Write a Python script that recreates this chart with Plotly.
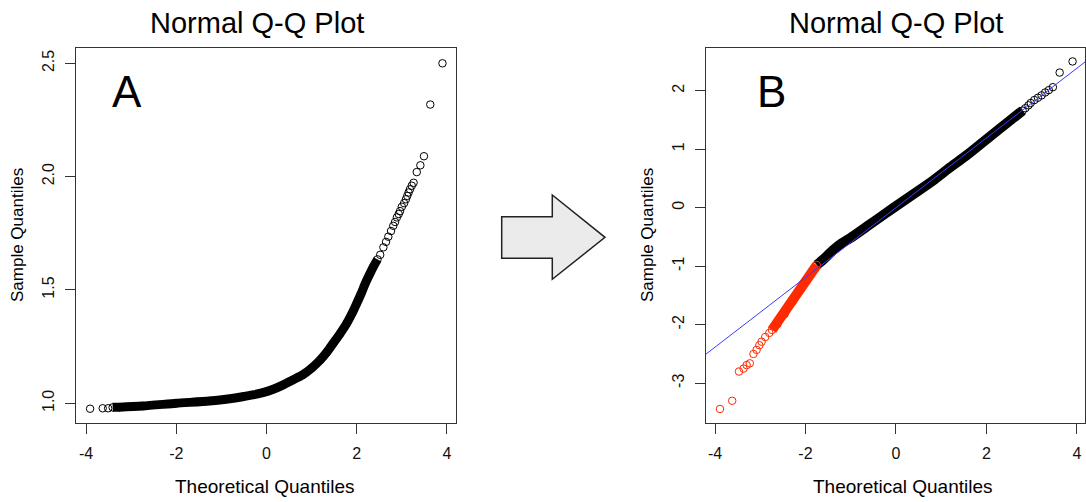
import plotly.graph_objects as go

W, H = 1086, 502
FONT = "Liberation Sans, Arial, sans-serif"

# ---------------- data ----------------
titles = ["Normal Q-Q Plot", "Normal Q-Q Plot"]
panel_letters = ["A", "B"]
x_title = "Theoretical Quantiles"
y_title = "Sample Quantiles"

x_ticks = [-4, -2, 0, 2, 4]
a_y_ticks = [1.0, 1.5, 2.0, 2.5]
a_y_ticklabels = ["1.0", "1.5", "2.0", "2.5"]
b_y_ticks = [-3, -2, -1, 0, 1, 2]

# Panel A: dense run of points (solid band) and separable points
a_band_x = [-3.41, -3.26, -2.74, -2.00, -1.27, -0.90, -0.53, -0.30, -0.08, 0.15, 0.36, 0.58, 0.80, 1.00,
            1.19, 1.34, 1.48, 1.63, 1.78, 1.90, 2.00, 2.10, 2.19, 2.28, 2.37, 2.46]
a_band_y = [0.982, 0.983, 0.988, 1.000, 1.010, 1.018, 1.029, 1.037, 1.047, 1.062, 1.080, 1.103, 1.125, 1.155,
            1.191, 1.226, 1.265, 1.307, 1.353, 1.398, 1.441, 1.485, 1.529, 1.567, 1.603, 1.635]
a_pts_x = [-3.91, -3.63, -3.51, 2.52, 2.59, 2.65, 2.70, 2.76, 2.81, 2.85, 2.89, 2.93, 2.96, 3.00,
           3.05, 3.09, 3.12, 3.15, 3.18, 3.22, 3.26, 3.33, 3.41, 3.49, 3.63, 3.90]
a_pts_y = [0.976, 0.978, 0.978, 1.655, 1.688, 1.712, 1.735, 1.760, 1.783, 1.800, 1.820, 1.835, 1.848, 1.867,
           1.883, 1.900, 1.915, 1.930, 1.944, 1.960, 1.973, 2.020, 2.050, 2.090, 2.318, 2.500]

# Panel B: black (kept) points and red (lower tail) points
b_black_band_x = [-1.75, -1.60, -1.38, -1.20, -1.01, -0.64, -0.28, 0.09, 0.46, 0.83, 1.20, 1.57, 1.94, 2.31, 2.67, 2.80]
b_black_band_y = [-0.98, -0.88, -0.72, -0.61, -0.52, -0.32, -0.125, 0.075, 0.27, 0.47, 0.69, 0.90, 1.13, 1.36, 1.58, 1.66]
b_black_pts_x = [2.86, 2.93, 2.98, 3.06, 3.14, 3.22, 3.30, 3.38, 3.47, 3.62, 3.905]
b_black_pts_y = [1.70, 1.75, 1.79, 1.84, 1.88, 1.92, 1.97, 2.01, 2.06, 2.31, 2.50]
b_red_band_x = [-1.75, -1.92, -2.10, -2.28, -2.46, -2.62, -2.74]
b_red_band_y = [-0.98, -1.18, -1.39, -1.60, -1.82, -1.99, -2.09]
b_red_pts_x = [-2.80, -2.89, -2.97, -3.02, -3.08, -3.15, -3.23, -3.30, -3.37, -3.47, -3.62, -3.89]
b_red_pts_y = [-2.14, -2.21, -2.29, -2.35, -2.43, -2.50, -2.66, -2.69, -2.75, -2.80, -3.30, -3.44]

# reference line of panel B
b_line_intercept = 0.0
b_line_slope = 0.596

# ---------------- styling ----------------
BLACK = "#000000"
RED = "#ff2a00"
BLUE = "#3a3aff"
BOX = "#333333"
MK = dict(symbol="circle-open", size=7.5, line=dict(width=1))

a_xr = [-4.222, 4.2]
a_yr = [0.913, 2.5675]
b_xr = [-4.199, 4.18]
b_yr = [-3.68, 2.73]


def px(x):
    return x / W


def py(y):
    return 1 - y / H


fig = go.Figure()


def add_band(x, y, color, xa, ya, width, shape="spline"):
    line = dict(color=color, width=width, shape=shape)
    if shape == "spline":
        line["smoothing"] = 0.6
    fig.add_trace(go.Scatter(x=x, y=y, mode="lines+markers", xaxis=xa, yaxis=ya,
                             line=line,
                             marker=dict(color=color, **MK), showlegend=False, hoverinfo="x+y"))


def add_pts(x, y, color, xa, ya):
    fig.add_trace(go.Scatter(x=x, y=y, mode="markers", xaxis=xa, yaxis=ya,
                             marker=dict(color=color, **MK), showlegend=False, hoverinfo="x+y"))


add_band(a_band_x, a_band_y, BLACK, "x", "y", 9)
add_pts(a_pts_x, a_pts_y, BLACK, "x", "y")
add_band(b_black_band_x, b_black_band_y, BLACK, "x2", "y2", 10)
add_pts(b_black_pts_x, b_black_pts_y, BLACK, "x2", "y2")
add_band(b_red_band_x, b_red_band_y, RED, "x2", "y2", 10, shape="linear")
add_pts(b_red_pts_x, b_red_pts_y, RED, "x2", "y2")

axis_common = dict(showline=True, mirror=True, linecolor=BOX, linewidth=1.3,
                   ticks="outside", ticklen=10, tickwidth=1, tickcolor=BOX,
                   showgrid=False, zeroline=False,
                   tickfont=dict(family=FONT, size=16, color="#111"))

ydom = [py(423), py(48)]

fig.update_layout(
    width=W, height=H,
    margin=dict(l=0, r=0, t=0, b=0),
    paper_bgcolor="white", plot_bgcolor="white",
    font=dict(family=FONT, color="#111"),
    xaxis=dict(domain=[px(76), px(456)], range=a_xr, anchor="y",
               tickvals=x_ticks, ticktext=[str(v) for v in x_ticks], ticklabelstandoff=6, **axis_common),
    yaxis=dict(domain=ydom, range=a_yr, anchor="x",
               tickvals=a_y_ticks, ticktext=a_y_ticklabels, tickangle=-90, ticklabelstandoff=4, **axis_common),
    xaxis2=dict(domain=[px(706), px(1085)], range=b_xr, anchor="y2",
                tickvals=x_ticks, ticktext=[str(v) for v in x_ticks], ticklabelstandoff=6, **axis_common),
    yaxis2=dict(domain=ydom, range=b_yr, anchor="x2",
                tickvals=b_y_ticks, ticktext=[str(v) for v in b_y_ticks], tickangle=-90, ticklabelstandoff=4, **axis_common),
)

# reference line (clipped to the plot area)
fig.add_shape(type="line", xref="x2", yref="y2",
              x0=b_xr[0], y0=b_line_intercept + b_line_slope * b_xr[0],
              x1=b_xr[1], y1=b_line_intercept + b_line_slope * b_xr[1],
              line=dict(color=BLUE, width=1))

# arrow between panels
arrow_px = [(501.7, 216.7), (552.3, 216.7), (552.3, 195), (605, 237.3),
            (552.3, 279.3), (552.3, 258.3), (501.7, 258.3)]
path = "M " + " L ".join(f"{px(x):.5f},{py(y):.5f}" for x, y in arrow_px) + " Z"
fig.add_shape(type="path", xref="paper", yref="paper", path=path,
              fillcolor="#ebebeb", line=dict(color="#222", width=1.5), layer="above")


def ann(text, x, y, size, angle=0):
    fig.add_annotation(text=text, x=px(x), y=py(y), xref="paper", yref="paper",
                       showarrow=False, xanchor="center", yanchor="middle",
                       textangle=angle, font=dict(family=FONT, size=size, color="#000"))


ann(titles[0], 257, 23, 29)
ann(titles[1], 896, 23, 29)
ann(panel_letters[0], 127, 91, 44)
ann(panel_letters[1], 771, 91, 44)
ann(x_title, 265, 486, 19)
ann(x_title, 903, 486, 19)
ann(y_title, 17, 235, 17, -90)
ann(y_title, 647, 235, 17, -90)

fig.write_html("out.html", config={"displayModeBar": False},
               post_script="document.body.style.margin='0';document.body.style.overflow='hidden';")
